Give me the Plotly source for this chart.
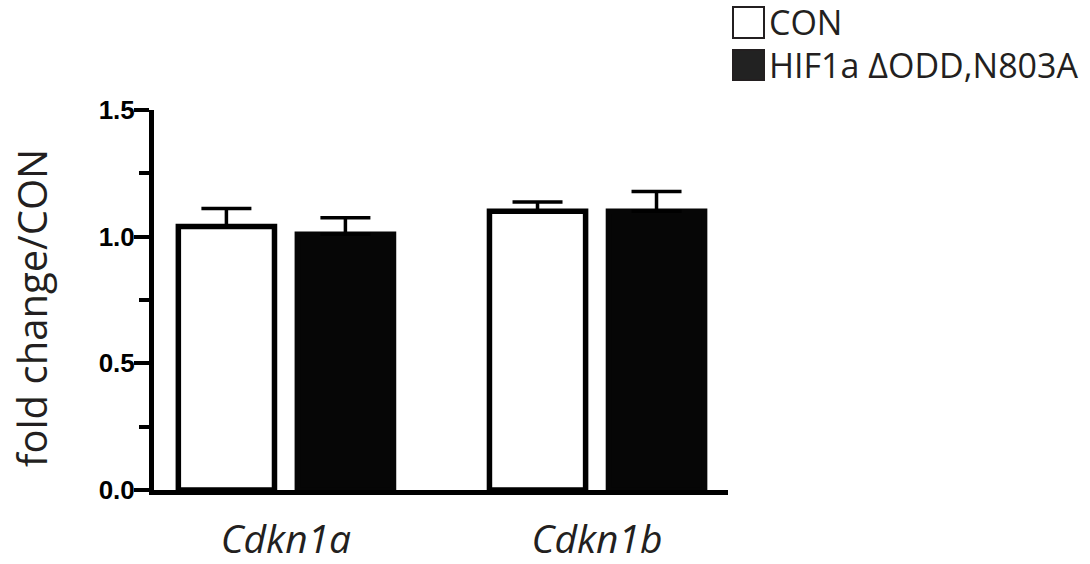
import plotly.graph_objects as go

genes = ["Cdkn1a", "Cdkn1b"]
groups = ["CON", "HIF1a ΔODD,N803A"]
con_mean = [1.04, 1.10]
con_err = [0.071, 0.037]
hif_mean = [1.01, 1.10]
hif_err = [0.065, 0.078]
ytick_vals = [0.0, 0.5, 1.0, 1.5]
ytick_text = ["0.0", "0.5", "1.0", "1.5"]
y_title = "fold change/CON"

W, H = 1090, 564
L, R, T, B = 154, 728, 110, 490  # plot area in px

def px_x(p):
    return (p - L) / (R - L)

def px_y(p):
    return (B - p) / (B - T)

ink = "#231f20"
fig = go.Figure()
fig.add_trace(go.Bar(
    x=genes, y=con_mean, name=groups[0],
    marker=dict(color="white", line=dict(color="black", width=5.5)),
    error_y=dict(type="data", symmetric=False, array=con_err,
                 arrayminus=[0] * len(con_err), color="black",
                 thickness=3.5, width=25),
    showlegend=False,
))
fig.add_trace(go.Bar(
    x=genes, y=hif_mean, name=groups[1],
    marker=dict(color="#060606", line=dict(color="#060606", width=5.5)),
    error_y=dict(type="data", symmetric=False, array=hif_err,
                 arrayminus=[0] * len(hif_err), color="black",
                 thickness=3.5, width=25),
    showlegend=False,
))

# custom legend
legend_rows = [(7, 38, "white"), (50, 80, "#222")]
text_y = [22, 65]
for (y0, y1, fill), name, ty in zip(legend_rows, groups, text_y):
    fig.add_shape(type="rect", xref="paper", yref="paper",
                  x0=px_x(733), x1=px_x(764), y0=px_y(y1), y1=px_y(y0),
                  fillcolor=fill, line=dict(color=ink, width=2))
    fig.add_annotation(xref="paper", yref="paper", x=px_x(767), y=px_y(ty),
                       xanchor="left", yanchor="middle", text=name,
                       showarrow=False,
                       font=dict(family="Open Sans", size=34, color=ink))

# y-axis title
fig.add_annotation(xref="paper", yref="paper", x=px_x(31), y=px_y(308),
                   xanchor="center", yanchor="middle", text=y_title,
                   textangle=-90, showarrow=False,
                   font=dict(family="Open Sans", size=40, color=ink))

fig.update_layout(
    width=W, height=H,
    margin=dict(l=L, r=W - R, t=T, b=H - B),
    plot_bgcolor="white", paper_bgcolor="white",
    barmode="group", bargap=0.235, bargroupgap=0.192,
    xaxis=dict(
        range=[-0.424, 1.421], showline=True, linecolor="black", linewidth=5,
        ticks="", showgrid=False, zeroline=False, automargin=False,
        tickfont=dict(family="Open Sans", size=39, color=ink, style="italic"),
        ticklabelstandoff=11,
    ),
    yaxis=dict(
        range=[0, 1.5], showline=True, linecolor="black", linewidth=5,
        tickvals=ytick_vals, ticktext=ytick_text, automargin=False,
        ticks="outside", ticklen=15, tickwidth=4, tickcolor="black",
        minor=dict(dtick=0.25, ticks="outside", ticklen=10, tickwidth=4,
                   tickcolor="black", showgrid=False),
        showgrid=False, zeroline=False, ticklabelstandoff=-6,
        tickfont=dict(family="Liberation Sans", size=26, color="black",
                      weight="bold"),
    ),
)

fig.write_html("out.html", config={"displayModeBar": False},
               post_script="document.body.style.margin='0px';")
